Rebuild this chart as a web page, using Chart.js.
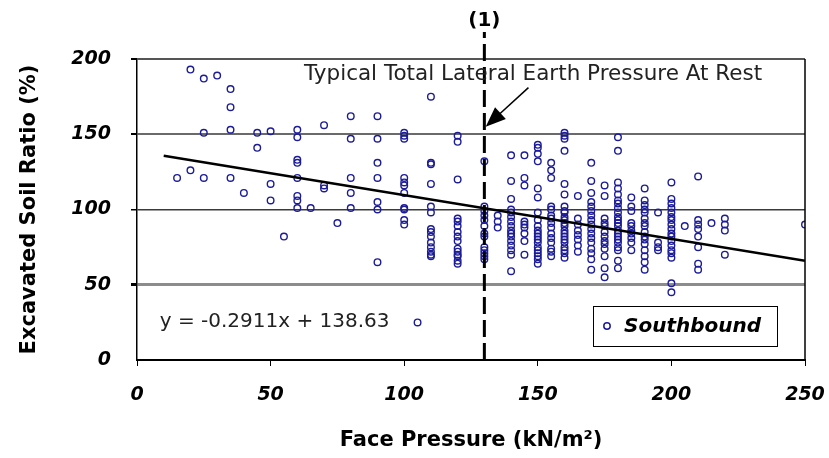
<!DOCTYPE html>
<html>
<head>
<meta charset="utf-8">
<script src="https://cdn.jsdelivr.net/npm/chart.js@4"></script>
<style>
  html, body { margin: 0; padding: 0; background: #fff; }
  #wrap { width: 829px; height: 458px; }
</style>
</head>
<body>
<div id="wrap"><canvas id="chart" width="829" height="458"></canvas></div>
<script>
// face pressure columns (kN/m2) and the soil ratios (%) read at each one
const pressureLevels = [15, 20, 25, 30, 35, 40, 45, 50, 55, 60, 65, 70, 75, 80, 90, 100, 105, 110, 120, 130, 135, 140, 145, 150, 155, 160, 165, 170, 175, 180, 185, 190, 195, 200, 205, 210, 215, 220, 250];
const ratioByPressure = [
  [121],
  [193, 126],
  [187, 151, 121],
  [189],
  [180, 168, 153, 121],
  [111],
  [151, 141],
  [152, 117, 106],
  [82],
  [153, 148, 133, 131, 121, 109, 106, 101],
  [101],
  [156, 116, 114],
  [91],
  [162, 147, 121, 111, 101],
  [162, 147, 131, 121, 105, 100, 65],
  [151, 149, 147, 121, 118, 116, 111, 101, 100, 93, 90],
  [25],
  [175, 131, 130, 117, 102, 98, 87, 85, 82, 78, 75, 72, 70, 69],
  [149, 145, 120, 94, 92, 89, 85, 82, 79, 74, 72, 70, 69, 66, 64],
  [132, 102, 99, 96, 93, 89, 84, 82, 75, 73, 71, 69, 67],
  [96, 92, 88],
  [136, 119, 107, 100, 98, 95, 92, 89, 86, 84, 82, 79, 76, 73, 70, 59],
  [136, 121, 116, 92, 90, 88, 84, 79, 70],
  [143, 141, 137, 132, 114, 108, 98, 93, 89, 86, 84, 82, 80, 78, 75, 73, 71, 69, 67, 64],
  [131, 126, 121, 102, 100, 96, 94, 91, 88, 84, 81, 78, 74, 72, 69],
  [151, 149, 147, 139, 117, 110, 102, 99, 98, 95, 93, 91, 89, 86, 84, 82, 80, 78, 75, 73, 71, 68],
  [109, 94, 90, 86, 83, 80, 76, 72],
  [131, 119, 111, 105, 102, 99, 96, 93, 90, 87, 84, 81, 78, 74, 71, 67, 60],
  [116, 109, 94, 91, 89, 85, 82, 79, 77, 74, 69, 61, 55],
  [148, 139, 118, 114, 110, 106, 104, 101, 98, 95, 93, 91, 89, 86, 84, 82, 80, 78, 75, 73, 66, 61],
  [108, 102, 99, 91, 89, 86, 84, 81, 78, 73],
  [114, 106, 103, 100, 98, 94, 91, 89, 85, 82, 80, 77, 73, 69, 65, 60],
  [98, 78, 75, 73],
  [118, 107, 104, 101, 98, 95, 93, 90, 87, 84, 82, 79, 76, 73, 71, 68, 51, 45],
  [89],
  [122, 93, 90, 87, 82, 75, 64, 60],
  [91],
  [94, 90, 86, 70],
  [90]
];

// trend line end points (y = -0.2911x + 138.63)
const trendX = [10, 250];
const trendY = [135.7, 65.9];

// the "at rest" marker at 130 kN/m2
const restX = [130, 130];
const restY = [0, 218];

const xTicks = [0, 50, 100, 150, 200, 250];
const yTicks = [0, 50, 100, 150, 200];

const seriesLabel = 'Southbound';
const equationText = 'y = -0.2911x + 138.63';
const noteText = 'Typical Total Lateral Earth Pressure At Rest';

const FONT = '"DejaVu Sans", "Liberation Sans", Arial, sans-serif';
const POINT_COLOR = '#1c1c98';

const points = [];
pressureLevels.forEach((p, i) => {
  ratioByPressure[i].forEach(v => points.push({ x: p, y: v }));
});

const gridStyle = {
  50: { color: '#8c8c8c', width: 3 },
  100: { color: '#3a3a3a', width: 1.5 },
  150: { color: '#6a6a6a', width: 2 },
  200: { color: '#555555', width: 2 }
};

const extras = {
  id: 'extras',
  afterDatasetsDraw(chart) {
    const ctx = chart.ctx;
    const xs = chart.scales.x;
    const ys = chart.scales.y;
    const area = chart.chartArea;
    ctx.save();

    // right frame
    ctx.strokeStyle = '#000';
    ctx.lineWidth = 1.5;
    ctx.beginPath();
    ctx.moveTo(area.right, area.top);
    ctx.lineTo(area.right, area.bottom);
    ctx.stroke();

    // "(1)" above the marker line
    ctx.fillStyle = '#000';
    ctx.font = 'bold 20px ' + FONT;
    ctx.textAlign = 'center';
    ctx.textBaseline = 'middle';
    ctx.fillText('(1)', xs.getPixelForValue(130), 21);

    // note + arrow
    ctx.fillStyle = '#222';
    ctx.font = '21.5px ' + FONT;
    ctx.textAlign = 'left';
    ctx.fillText(noteText, xs.getPixelForValue(62.5), ys.getPixelForValue(189.5));

    const ax0 = xs.getPixelForValue(146.5), ay0 = ys.getPixelForValue(181);
    const ax1 = xs.getPixelForValue(130.5), ay1 = ys.getPixelForValue(155);
    const ang = Math.atan2(ay1 - ay0, ax1 - ax0);
    ctx.strokeStyle = '#000';
    ctx.lineWidth = 1.5;
    ctx.beginPath();
    ctx.moveTo(ax0, ay0);
    ctx.lineTo(ax1 - 14 * Math.cos(ang), ay1 - 14 * Math.sin(ang));
    ctx.stroke();
    ctx.fillStyle = '#000';
    ctx.beginPath();
    ctx.moveTo(ax1, ay1);
    ctx.lineTo(ax1 - 20 * Math.cos(ang) + 8 * Math.sin(ang), ay1 - 20 * Math.sin(ang) - 8 * Math.cos(ang));
    ctx.lineTo(ax1 - 20 * Math.cos(ang) - 8 * Math.sin(ang), ay1 - 20 * Math.sin(ang) + 8 * Math.cos(ang));
    ctx.closePath();
    ctx.fill();

    // regression equation
    ctx.fillStyle = '#222';
    ctx.font = '20px ' + FONT;
    ctx.fillText(equationText, xs.getPixelForValue(8.5), ys.getPixelForValue(25.3));

    // legend box
    const bw = 184, bh = 40;
    const bx = area.right - 28 - bw, by = area.bottom - 14 - bh;
    ctx.fillStyle = '#fff';
    ctx.fillRect(bx, by, bw, bh);
    ctx.strokeStyle = '#000';
    ctx.lineWidth = 1;
    ctx.strokeRect(bx + 0.5, by + 0.5, bw, bh);
    ctx.strokeStyle = POINT_COLOR;
    ctx.lineWidth = 1.5;
    ctx.beginPath();
    ctx.arc(bx + 14, by + bh / 2, 3.2, 0, Math.PI * 2);
    ctx.stroke();
    ctx.fillStyle = '#000';
    ctx.font = 'italic bold 20px ' + FONT;
    ctx.fillText(seriesLabel, bx + 31, by + bh / 2 + 1);

    ctx.restore();
  }
};

new Chart(document.getElementById('chart'), {
  type: 'scatter',
  data: {
    datasets: [
      {
        label: 'rest',
        type: 'line',
        data: restX.map((x, i) => ({ x: x, y: restY[i] })),
        borderColor: '#000',
        borderWidth: 3,
        borderDash: [17, 6],
        pointRadius: 0,
        fill: false,
        clip: false
      },
      {
        label: 'trend',
        type: 'line',
        data: trendX.map((x, i) => ({ x: x, y: trendY[i] })),
        borderColor: '#000',
        borderWidth: 2.5,
        pointRadius: 0,
        fill: false
      },
      {
        label: seriesLabel,
        data: points,
        pointStyle: 'circle',
        pointRadius: 3.3,
        pointBorderWidth: 1.4,
        borderColor: POINT_COLOR,
        backgroundColor: 'rgba(255,255,255,0)'
      }
    ]
  },
  options: {
    responsive: false,
    animation: false,
    layout: { padding: { left: 0, right: 24, top: 59, bottom: 0 } },
    plugins: { legend: { display: false }, tooltip: { enabled: false } },
    scales: {
      x: {
        type: 'linear',
        min: 0,
        max: 250,
        afterBuildTicks: s => { s.ticks = xTicks.map(v => ({ value: v })); },
        afterFit: s => { s.height = 98; s.paddingLeft = 0; s.paddingRight = 0; },
        ticks: {
          color: '#000',
          padding: 18,
          font: { family: FONT, size: 19, weight: 'bold', style: 'italic' }
        },
        grid: { drawOnChartArea: false, tickLength: 6, tickColor: '#000', color: '#000' },
        border: { color: '#000', width: 2 },
        title: {
          display: true,
          text: 'Face Pressure (kN/m²)',
          color: '#000',
          padding: { top: 0, bottom: 5 },
          font: { family: FONT, size: 21, weight: 'bold' }
        }
      },
      y: {
        min: 0,
        max: 200,
        afterBuildTicks: s => { s.ticks = yTicks.map(v => ({ value: v })); },
        afterFit: s => { s.width = 137; s.paddingTop = 0; s.paddingBottom = 0; },
        ticks: {
          color: '#000',
          padding: 20,
          font: { family: FONT, size: 19, weight: 'bold', style: 'italic' }
        },
        grid: {
          tickLength: 6,
          tickColor: '#000',
          color: c => gridStyle[c.tick.value] ? gridStyle[c.tick.value].color : 'rgba(0,0,0,0)',
          lineWidth: c => gridStyle[c.tick.value] ? gridStyle[c.tick.value].width : 0
        },
        border: { color: '#000', width: 1.5 },
        title: {
          display: true,
          text: 'Excavated Soil Ratio (%)',
          color: '#000',
          padding: { top: 17, bottom: 0 },
          font: { family: FONT, size: 21, weight: 'bold' }
        }
      }
    }
  },
  plugins: [extras]
});
</script>
</body>
</html>
